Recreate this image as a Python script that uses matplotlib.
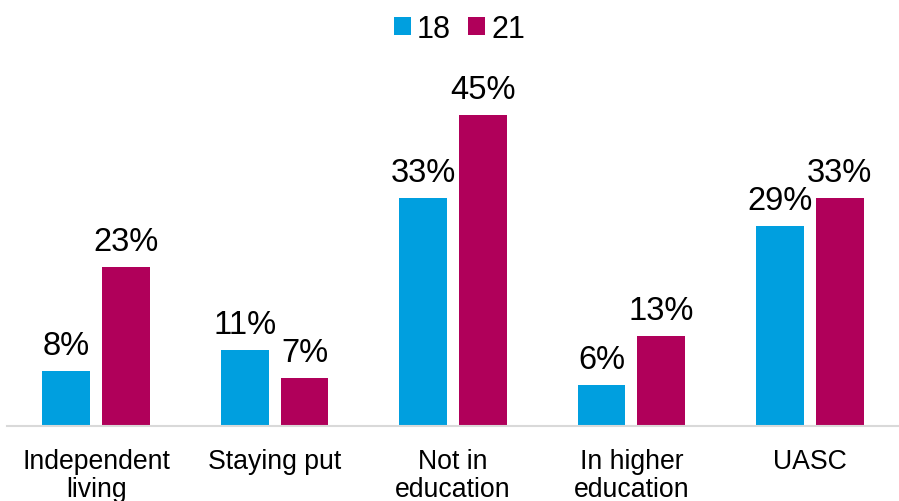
import matplotlib.pyplot as plt
import numpy as np

plt.rcParams['font.family'] = ['Liberation Sans', 'DejaVu Sans']

categories = ['Independent\nliving', 'Staying put', 'Not in\neducation', 'In higher\neducation', 'UASC']
age18 = [8, 11, 33, 6, 29]
age21 = [23, 7, 45, 13, 33]
series_names = ['18', '21']
colors = ['#009FDF', '#B0005A']

fig = plt.figure(figsize=(8.99, 5.02), dpi=100)
ax = fig.add_axes([7 / 899, 75 / 502, 892 / 899, 345.5 / 502])

x = np.arange(len(categories))
width = 0.268
offset = 0.034 + width / 2

for vals, name, c, sgn in [(age18, series_names[0], colors[0], -1), (age21, series_names[1], colors[1], 1)]:
    bars = ax.bar(x + sgn * offset, vals, width=width, color=c, label=name)
    for b, v in zip(bars, vals):
        ax.text(b.get_x() + b.get_width() / 2, v + 2.45, f'{v}%', ha='center', va='baseline',
                fontsize=23.5, color='#000000')

ax.set_xlim(-0.5, 4.5)
ax.set_ylim(0, 50)
ax.set_xticks(x)
ax.set_xticklabels(categories, fontsize=19.2, linespacing=1.1, va='top')
ax.tick_params(axis='x', length=0, pad=16)
ax.set_yticks([])
for s in ['top', 'right', 'left']:
    ax.spines[s].set_visible(False)
ax.spines['bottom'].set_color('#D9D9D9')
ax.spines['bottom'].set_linewidth(1.5)

leg = fig.legend(loc='upper center', bbox_to_anchor=(0.511, 1.025), ncol=2, frameon=False,
                 fontsize=22, handlelength=0.56, handleheight=0.56, handletextpad=0.2,
                 columnspacing=0.55)

fig.savefig('out.png', dpi=100)
